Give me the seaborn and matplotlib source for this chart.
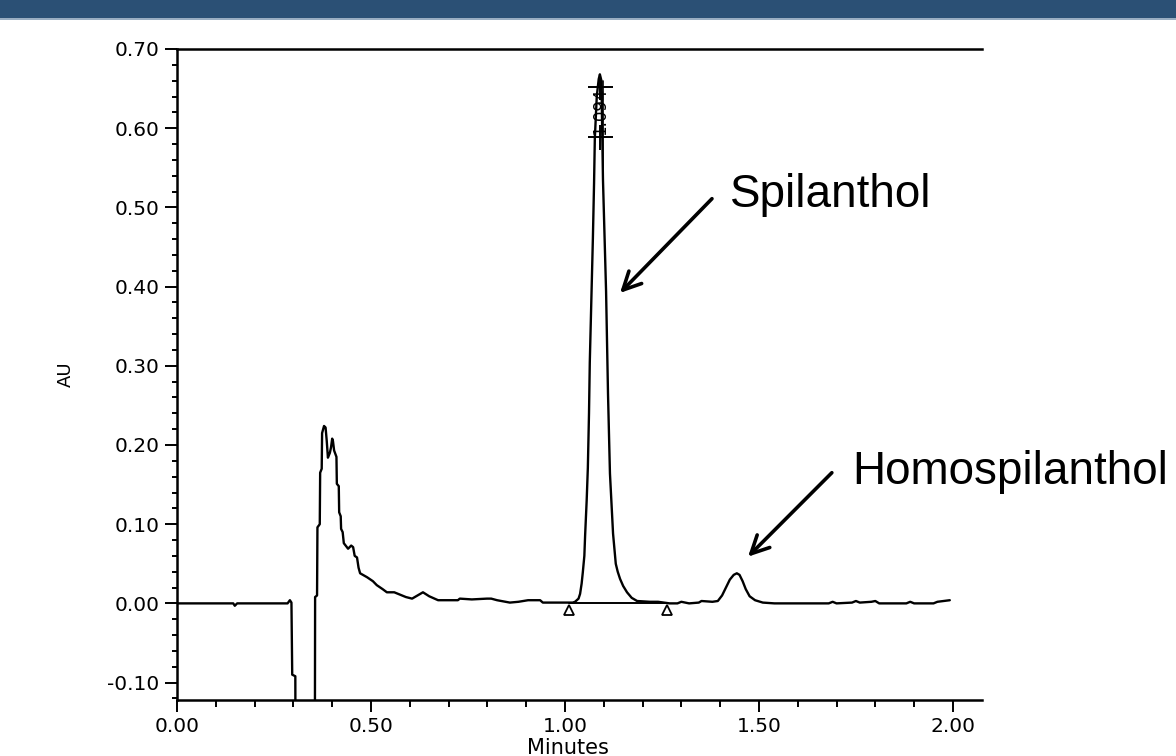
import numpy as np
import pandas as pd
import matplotlib
matplotlib.use("Agg")
import matplotlib.pyplot as plt
from matplotlib.patches import Rectangle
from matplotlib.ticker import MultipleLocator, FormatStrFormatter
import seaborn as sns

# ---------------- data ----------------
minutes = [0.000, 0.145, 0.149, 0.155, 0.285, 0.291, 0.295, 0.297, 0.305, 0.306,
           0.355, 0.356, 0.361, 0.362, 0.368, 0.369, 0.373, 0.374, 0.379, 0.383,
           0.386, 0.389, 0.394, 0.397, 0.400, 0.402, 0.405, 0.411, 0.412, 0.417,
           0.418, 0.422, 0.423, 0.427, 0.430, 0.441, 0.449, 0.454, 0.458, 0.464,
           0.468, 0.472, 0.490, 0.505, 0.515, 0.530, 0.541, 0.560, 0.575, 0.590,
           0.606, 0.620, 0.634, 0.650, 0.673, 0.724, 0.729, 0.760, 0.799, 0.810,
           0.825, 0.858, 0.880, 0.905, 0.936, 0.943, 1.005, 1.020, 1.026, 1.035,
           1.039, 1.043, 1.046, 1.050, 1.052, 1.056, 1.059, 1.062, 1.064, 1.068,
           1.072, 1.075, 1.077, 1.082, 1.087, 1.090, 1.094, 1.098, 1.106, 1.111,
           1.116, 1.124, 1.131, 1.136, 1.142, 1.150, 1.160, 1.172, 1.186, 1.219,
           1.240, 1.270, 1.290, 1.300, 1.320, 1.345, 1.352, 1.380, 1.394, 1.405,
           1.415, 1.425, 1.435, 1.443, 1.450, 1.458, 1.466, 1.476, 1.490, 1.510,
           1.540, 1.600, 1.680, 1.690, 1.700, 1.740, 1.750, 1.760, 1.790, 1.800,
           1.810, 1.880, 1.890, 1.900, 1.950, 1.960, 1.992]
au = [0.000, 0.000, -0.003, 0.000, 0.000, 0.004, 0.001, -0.090, -0.092, -0.300,
      -0.300, 0.008, 0.010, 0.096, 0.100, 0.165, 0.170, 0.215, 0.224, 0.222,
      0.205, 0.184, 0.190, 0.197, 0.208, 0.205, 0.193, 0.185, 0.151, 0.148,
      0.115, 0.110, 0.094, 0.090, 0.076, 0.069, 0.073, 0.071, 0.060, 0.058,
      0.045, 0.038, 0.033, 0.028, 0.023, 0.018, 0.014, 0.014, 0.011, 0.008,
      0.006, 0.010, 0.014, 0.009, 0.004, 0.004, 0.006, 0.005, 0.006, 0.006,
      0.004, 0.001, 0.002, 0.004, 0.004, 0.001, 0.001, 0.001, 0.002, 0.006,
      0.012, 0.025, 0.039, 0.060, 0.086, 0.130, 0.171, 0.240, 0.304, 0.380,
      0.461, 0.530, 0.587, 0.640, 0.662, 0.668, 0.660, 0.535, 0.394, 0.264,
      0.164, 0.088, 0.050, 0.040, 0.031, 0.022, 0.014, 0.007, 0.003, 0.002,
      0.002, 0.000, 0.000, 0.002, 0.000, 0.001, 0.003, 0.002, 0.003, 0.010,
      0.020, 0.030, 0.036, 0.038, 0.036, 0.028, 0.018, 0.009, 0.004, 0.001,
      0.000, 0.000, 0.000, 0.002, 0.000, 0.001, 0.003, 0.001, 0.002, 0.003,
      0.000, 0.000, 0.002, 0.000, 0.000, 0.002, 0.004]

peak_rt_label = "1.094"
peak_rt = 1.090
integration_start = 1.010
integration_end = 1.263
peak_names = ["Spilanthol", "Homospilanthol"]

# ---------------- style ----------------
sns.set_theme(style="ticks")
plt.rcParams["font.family"] = ["DejaVu Sans"]
plt.rcParams["axes.unicode_minus"] = False

W, H = 1176, 756
fig = plt.figure(figsize=(W / 100, H / 100), dpi=100)
fig.patch.set_facecolor("white")

# top banner
fig.patches.append(Rectangle((0, 1 - 18 / H), 1, 18 / H, transform=fig.transFigure,
                             facecolor="#2B5075", edgecolor="none", zorder=0))
fig.patches.append(Rectangle((0, 1 - 19.5 / H), 1, 1.5 / H, transform=fig.transFigure,
                             facecolor="#9AAEC2", edgecolor="none", zorder=0))

ax = fig.add_axes([177 / W, 1 - 700 / H, (982 - 177) / W, (700 - 49) / H])
ax.set_facecolor("white")

df = pd.DataFrame({"Minutes": minutes, "AU": au})
sns.lineplot(data=df, x="Minutes", y="AU", ax=ax, sort=False, estimator=None,
             color="black", linewidth=1.7)

# integration baseline and markers
ax.plot([integration_start, integration_end], [0.0, 0.0], color="black", lw=1.4)
ax.plot([integration_start, integration_end], [-0.008, -0.008], linestyle="none",
        marker="^", markersize=7, markerfacecolor="white", markeredgecolor="black",
        markeredgewidth=1.3)
ax.plot([peak_rt, peak_rt], [0.589, 0.652], linestyle="none", marker="+",
        markersize=18, markeredgewidth=1.4, color="black")
ax.plot([peak_rt + 0.008, peak_rt + 0.008], [0.55, 0.66], color="black", lw=1.2)
ax.text(peak_rt, 0.621, peak_rt_label, rotation=90, ha="center", va="center",
        fontsize=12, color="black")

ax.set_xlim(0, 2.075)
ax.set_ylim(-0.122, 0.70)
ax.xaxis.set_major_locator(MultipleLocator(0.5))
ax.xaxis.set_minor_locator(MultipleLocator(0.1))
ax.yaxis.set_major_locator(MultipleLocator(0.1))
ax.yaxis.set_minor_locator(MultipleLocator(0.02))
ax.xaxis.set_major_formatter(FormatStrFormatter("%.2f"))
ax.yaxis.set_major_formatter(FormatStrFormatter("%.2f"))

for s in ["left", "bottom", "top"]:
    ax.spines[s].set_visible(True)
    ax.spines[s].set_color("black")
    ax.spines[s].set_linewidth(1.8)
ax.spines["right"].set_visible(False)

ax.tick_params(axis="both", which="major", direction="out", length=8.5, width=1.4,
               colors="black", labelsize=14.5, pad=4)
ax.tick_params(axis="x", which="minor", direction="out", length=5, width=1.4, colors="black")
ax.tick_params(axis="y", which="minor", direction="out", length=3.5, width=1.4, colors="black")
ax.tick_params(top=False, right=False, which="both")

ax.set_xlabel("Minutes", fontsize=15, color="black")
ax.xaxis.set_label_coords(0.486, -0.058)
ax.set_ylabel("AU", fontsize=13, color="black")
ax.yaxis.set_label_coords(-0.127, 0.5)

# annotations
arrow = dict(arrowstyle="->", lw=2.6, color="black", mutation_scale=32,
             shrinkA=0, shrinkB=0)
ax.annotate("", xy=(1.142, 0.392), xytext=(1.379, 0.511), arrowprops=arrow,
            annotation_clip=False)
ax.annotate("", xy=(1.472, 0.059), xytext=(1.688, 0.165), arrowprops=arrow,
            annotation_clip=False)
ax.text(1.425, 0.501, peak_names[0], fontsize=33, family="Liberation Sans",
        ha="left", va="baseline", color="black", clip_on=False)
ax.text(1.740, 0.151, peak_names[1], fontsize=33, family="Liberation Sans",
        ha="left", va="baseline", color="black", clip_on=False)

fig.savefig("out.png", dpi=100, facecolor="white")
